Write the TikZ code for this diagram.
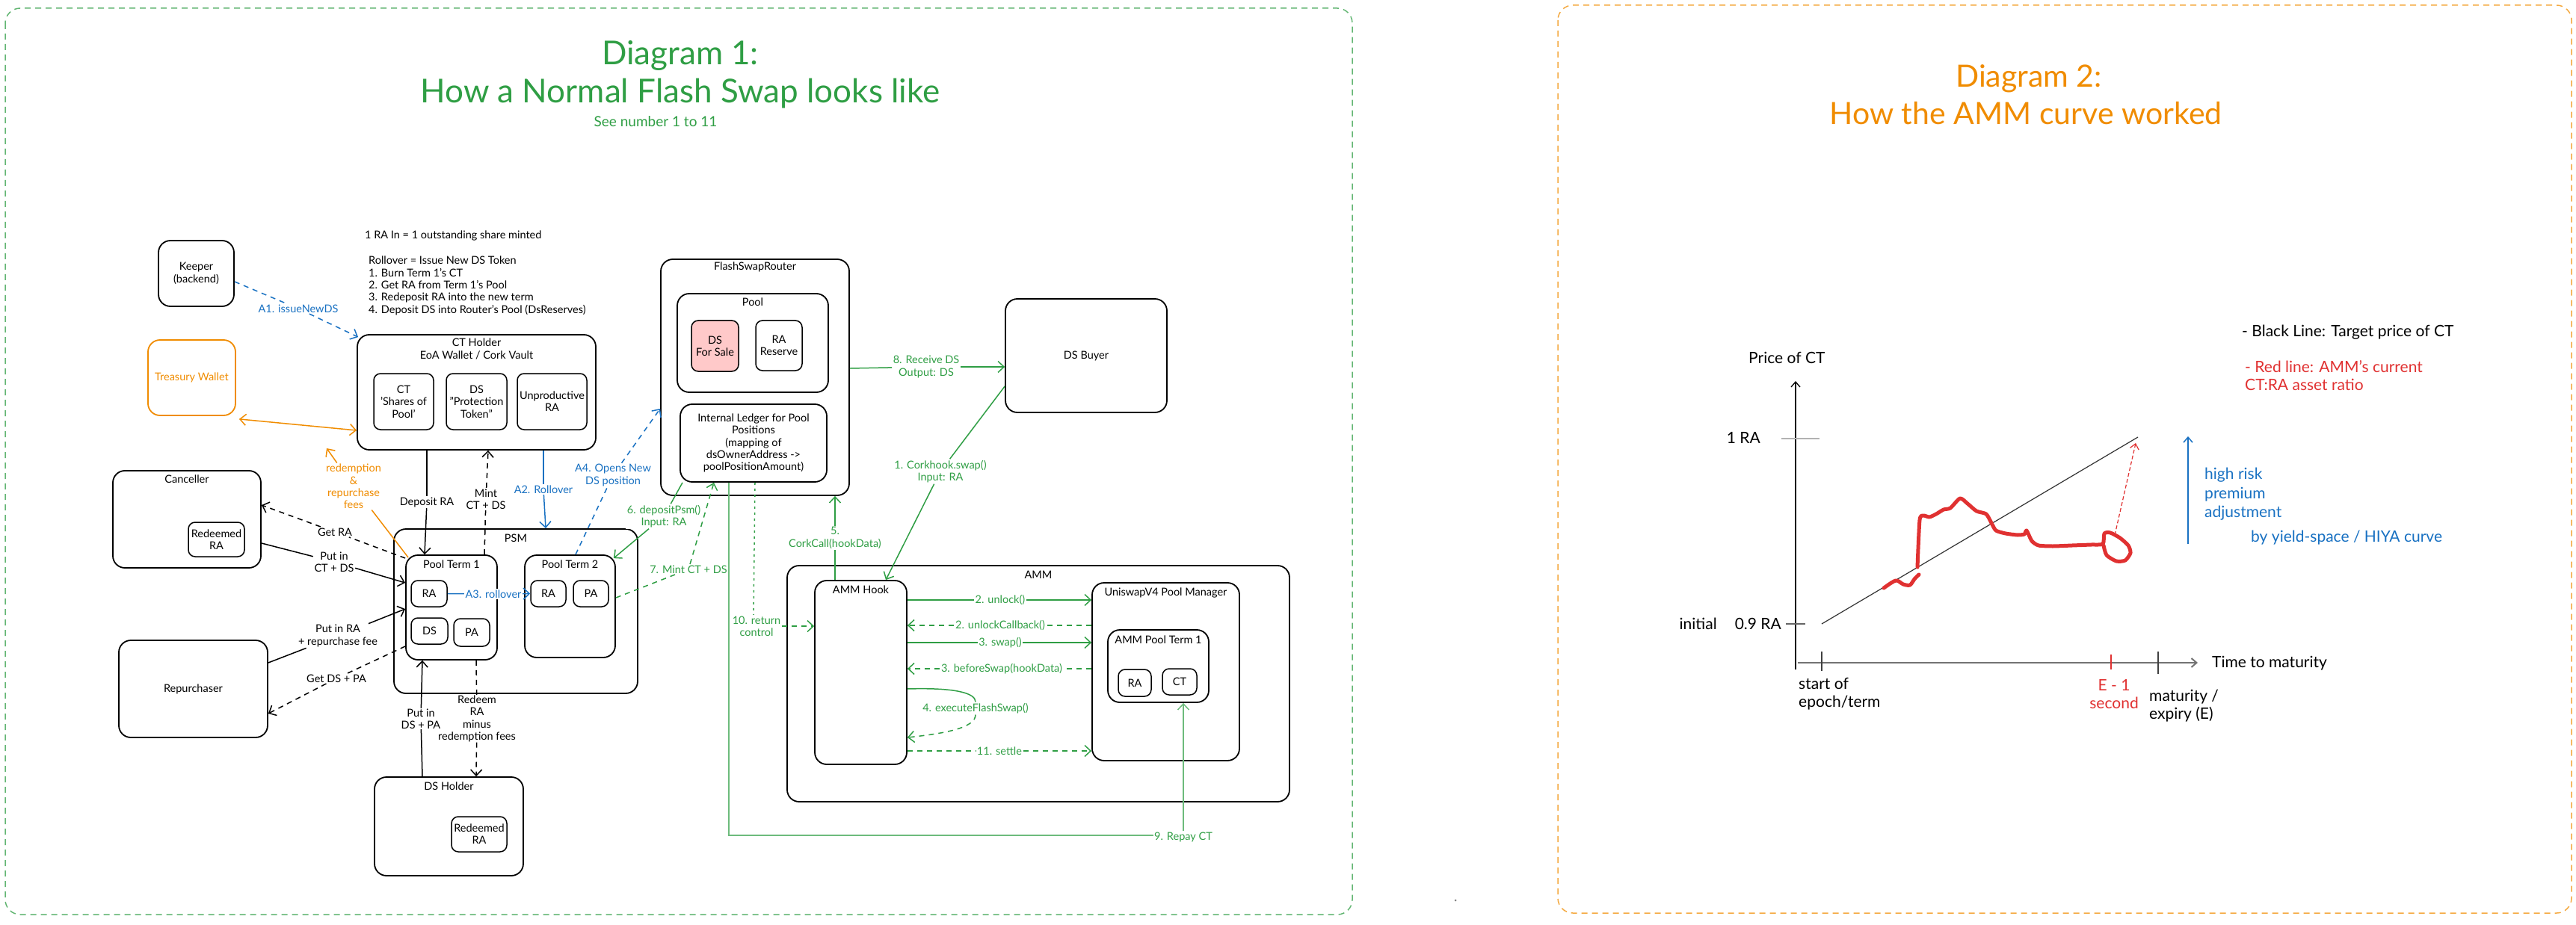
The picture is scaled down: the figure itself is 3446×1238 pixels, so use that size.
\documentclass[tikz,border=0pt]{standalone}
\usepackage{fontspec}
\setmainfont{Lato}
\usetikzlibrary{arrows.meta}
\definecolor{xgreen}{HTML}{2F9E44}
\definecolor{xblue}{HTML}{1971C2}
\definecolor{xorange}{HTML}{F08C00}
\definecolor{xred}{HTML}{E03131}
\definecolor{xpink}{HTML}{FFC9C9}
\newcommand\fsmall{\fontsize{14.5}{16.3}\selectfont}
\newcommand\fmid{\fontsize{21}{24}\selectfont}
\newcommand\ftitle{\fontsize{44}{51}\selectfont}
\newcommand\ftitleb{\fontsize{41}{51}\selectfont}
\tikzset{
  bx/.style={draw=black, line width=1.8pt, rounded corners=16pt, inner sep=0pt, align=center, font=\fsmall},
  ib/.style={draw=black, line width=1.5pt, rounded corners=9pt, inner sep=0pt, align=center, font=\fsmall},
  tx/.style={align=center, font=\fsmall, inner sep=1pt},
  lab/.style={fill=white, align=center, font=\fsmall, inner sep=1.5pt},
  ar/.style={line width=1.5pt, -{Straight Barb[length=8pt,width=15pt]}},
  dar/.style={ar, dash pattern=on 7pt off 6pt},
  ln/.style={line width=1.5pt},
  mt/.style={align=left, font=\fmid, inner sep=1pt},
}
\begin{document}
\begin{tikzpicture}[x=1pt,y=-1pt]
\useasboundingbox (0,0) rectangle (3446,1238);
% frames
\draw[xgreen!75, line width=1.5pt, dash pattern=on 8pt off 6pt, rounded corners=20pt] (7,11) rectangle (1809,1224);
\draw[xorange!75, line width=1.5pt, dash pattern=on 8pt off 6pt, rounded corners=20pt] (2084,7) rectangle (3440,1222);
\fill[black!50] (1947,1205) circle (1.5);

% ===== Diagram 1 titles
\node[font=\ftitle, text=xgreen, anchor=base] (t1a) at (910,87) {Diagram 1:};
\node[font=\ftitle, text=xgreen, anchor=base] (t1b) at (910,138) {How a Normal Flash Swap looks like};
\node[font=\fontsize{19}{23}\selectfont, text=xgreen, anchor=base] (t1c) at (877,170) {See number 1 to 11};

% notes
\node[tx, anchor=west] (note1) at (487,315) {1 RA In = 1 outstanding share minted};
\node[tx, anchor=north west, align=left] (note2) at (492,342) {Rollover = Issue New DS Token\\1. Burn Term 1's CT\\2. Get RA from Term 1's Pool\\3. Redeposit RA into the new term\\4. Deposit DS into Router's Pool (DsReserves)};

% boxes
\node[bx, minimum width=101pt, minimum height=88pt] (keeper) at (262.5,366) {Keeper\\(backend)};
\node[bx, draw=xorange, text=xorange, minimum width=117pt, minimum height=101pt] (treas) at (256.5,505.5) {Treasury Wallet};

\node[bx, minimum width=319pt, minimum height=154pt] (cth) at (637.5,525) {};
\node[tx] (ctht) at (637.5,467) {CT Holder\\EoA Wallet / Cork Vault};
\node[ib, minimum width=80pt, minimum height=75pt] (ctct) at (540,537.5) {CT\\'Shares of\\Pool'};
\node[ib, minimum width=81pt, minimum height=75pt] (ctds) at (637.5,537.5) {DS\\"Protection\\Token"};
\node[ib, minimum width=93pt, minimum height=75pt] (ctra) at (738.5,537.5) {Unproductive\\RA};

\node[bx, minimum width=198pt, minimum height=130pt] (canc) at (250,695) {};
\node[tx] (canct) at (250,641) {Canceller};
\node[ib, minimum width=75pt, minimum height=46pt] (cancra) at (289.5,722) {Redeemed\\RA};

\node[bx, minimum width=199pt, minimum height=130pt] (repu) at (258.5,922) {Repurchaser};

\node[bx, minimum width=326pt, minimum height=220pt] (psm) at (690,818) {};
\node[tx] (psmt) at (690,720) {PSM};
\node[bx, minimum width=122pt, minimum height=140pt] (pt1) at (604,813) {};
\node[tx] (pt1t) at (604,755) {Pool Term 1};
\node[ib, minimum width=48pt, minimum height=35pt] (pt1ra) at (574,794.5) {RA};
\node[ib, minimum width=49pt, minimum height=35pt] (pt1ds) at (574.5,844.5) {DS};
\node[ib, minimum width=48pt, minimum height=37pt] (pt1pa) at (631,846.5) {PA};
\node[bx, minimum width=121pt, minimum height=137pt] (pt2) at (762.5,811.5) {};
\node[tx] (pt2t) at (762.5,755) {Pool Term 2};
\node[ib, minimum width=47pt, minimum height=35pt] (pt2ra) at (733.5,794.5) {RA};
\node[ib, minimum width=47pt, minimum height=35pt] (pt2pa) at (790.5,794.5) {PA};

\node[bx, minimum width=199pt, minimum height=132pt] (dsh) at (600.5,1106) {};
\node[tx] (dsht) at (600.5,1052) {DS Holder};
\node[ib, minimum width=74pt, minimum height=47pt] (dshra) at (641,1116.5) {Redeemed\\RA};

\node[bx, minimum width=252pt, minimum height=316pt] (rtr) at (1010,505) {};
\node[tx] (rtrt) at (1010,357) {FlashSwapRouter};
\node[bx, minimum width=202pt, minimum height=132pt] (pool) at (1007,459) {};
\node[tx] (poolt) at (1007,404) {Pool};
\node[ib, fill=xpink, minimum width=63pt, minimum height=68pt] (dsfs) at (956.5,463) {DS\\For Sale};
\node[ib, minimum width=62pt, minimum height=67pt] (rares) at (1042,462.5) {RA\\Reserve};
\node[bx, minimum width=196pt, minimum height=104pt] (ledg) at (1008,593) {Internal Ledger for Pool\\Positions\\(mapping of\\dsOwnerAddress -{}>\\poolPositionAmount)};

\node[bx, minimum width=216pt, minimum height=152pt] (dsb) at (1453,476) {DS Buyer};

\node[bx, minimum width=672pt, minimum height=316pt] (amm) at (1389,915) {};
\node[tx] (ammt) at (1389,769) {AMM};
\node[bx, minimum width=123pt, minimum height=246pt] (hook) at (1151.5,900) {};
\node[tx] (hookt) at (1151.5,789) {AMM Hook};
\node[bx, minimum width=197pt, minimum height=238pt] (pm) at (1559.5,899) {};
\node[tx] (pmt) at (1559.5,793) {UniswapV4 Pool Manager};
\node[bx, minimum width=135pt, minimum height=97pt] (apt) at (1549.5,891.5) {};
\node[tx] (aptt) at (1549.5,856) {AMM Pool Term 1};
\node[ib, minimum width=44pt, minimum height=36pt] (apra) at (1518,914) {RA};
\node[ib, minimum width=46pt, minimum height=35pt] (apct) at (1578,912.5) {CT};

% ===== connectors (blue)
\node[lab, text=xblue] (la1) at (399,413) {A1. issueNewDS};
\draw[xblue, dar] ([yshift=-11pt]keeper.east) -- (la1) -- ([xshift=2pt,yshift=-4pt]cth.north west);
\node[lab, text=xblue] (la2) at (727,655) {A2. Rollover};
\draw[xblue, ln] ([xshift=89.5pt]cth.south) -- (la2);
\draw[xblue, ar] (la2) -- ([xshift=40pt]psm.north);
\node[lab, text=xblue] (la3) at (660,795) {A3. rollover};
\draw[xblue, ln] (pt1ra.east) -- (la3);
\draw[xblue, ar] (la3) -- (pt2ra.west);
\node[lab, text=xblue] (la4) at (820,636) {A4. Opens New\\DS position};
\draw[xblue, dar] ([xshift=7.5pt]pt2.north) -- (la4) -- ([yshift=-42pt]rtr.west);

% ===== orange fees
\coordinate (feept) at (437,600);
\node[lab, text=xorange] (lfee) at (473,651) {redemption\\\&\\repurchase\\fees};
\draw[xorange, ln] ([xshift=4pt,yshift=-4pt]pt1.north west) -- (lfee);
\draw[xorange, ar] (lfee) -- (feept);
\draw[xorange, line width=1.5pt, {Straight Barb[length=8pt,width=15pt]}-{Straight Barb[length=8pt,width=15pt]}] ([xshift=4pt,yshift=-4pt]treas.south east) -- ([yshift=-51pt]cth.west);

% ===== black connectors
\node[lab] (ldep) at (571,672) {Deposit RA};
\draw[ln] ([xshift=-66.5pt]cth.south) -- (ldep);
\draw[ar] (ldep) -- ([xshift=-36pt]pt1.north);
\node[lab] (lmint) at (650,668) {Mint\\CT + DS};
\draw[dar] ([xshift=44pt]pt1.north) -- (lmint) -- ([xshift=15.5pt]cth.south);

\node[lab] (lgetra) at (448,712) {Get RA};
\draw[dar] ([yshift=66pt]pt1.west) -- (lgetra) -- ([yshift=19pt]canc.east);
\node[lab] (lputct) at (447,752) {Put in\\CT + DS};
\draw[ln] ([yshift=-32pt]canc.east) -- (lputct);
\draw[ar] (lputct) -- ([yshift=33pt]pt1.west);
\node[lab] (lputra) at (452,851) {Put in RA\\+ repurchase fee};
\draw[ln] ([yshift=35pt]repu.east) -- (lputra);
\draw[ar] (lputra) -- ([yshift=-2pt]pt1.west);
\node[lab] (lgetds) at (450,908) {Get DS + PA};
\draw[dar] ([yshift=-52pt]pt1.west) -- (lgetds) -- ([yshift=-33pt]repu.east);

\node[lab, inner sep=0.5pt] (lredeem) at (638,962) {Redeem\\RA\\minus\\redemption fees};
\draw[dar] ([xshift=33pt]pt1.south) -- (lredeem) -- ([xshift=36.5pt]dsh.north);
\node[lab, inner sep=0.5pt] (lputds) at (563,962) {Put in\\DS + PA};
\draw[ln] ([xshift=-35.5pt]dsh.north) -- (lputds);
\draw[ar] (lputds) -- ([xshift=-39pt]pt1.south);

% ===== green connectors
\node[lab, text=xgreen] (l8) at (1239,491) {8. Receive DS\\Output: DS};
\draw[xgreen, ln] ([yshift=12pt]rtr.east) -- (l8);
\draw[xgreen, ar] (l8) -- ([yshift=-15pt]dsb.west);
\node[lab, text=xgreen] (l1) at (1258,631) {1. Corkhook.swap()\\Input: RA};
\draw[xgreen, ln] ([yshift=-41pt]dsb.west) -- (l1);
\draw[xgreen, ar] (l1) -- ([xshift=33.5pt]hook.north);
\node[lab, text=xgreen] (l6) at (888,691) {6. depositPsm()\\Input: RA};
\draw[xgreen, ln] ([xshift=-95pt]ledg.south) -- (l6);
\draw[xgreen, ar] (l6) -- ([xshift=-3pt,yshift=-5pt]pt2.north east);
\node[lab, text=xgreen] (l7) at (921,762) {7. Mint CT + DS};
\draw[xgreen, dar] ([yshift=11.5pt]pt2.east) -- (l7) -- ([xshift=-53pt]ledg.south);
\node[lab, text=xgreen] (l5) at (1117,720) {5.\\CorkCall(hookData)};
\draw[xgreen, ln] ([xshift=-34.5pt]hook.north) -- (l5);
\draw[xgreen, ar] (l5) -- ([xshift=107pt]rtr.south);
\node[lab, text=xgreen] (l10) at (1012,838) {10. return\\control};
\draw[xgreen, line width=1.5pt, dash pattern=on 3pt off 5pt] ([xshift=2pt]ledg.south) -- (l10.north -| ledg.south);
\draw[xgreen, dar] (l10.east) -- ([yshift=62pt]hook.west);

\coordinate (rpc) at (1583,1118);
\draw[xgreen!70, ln] ([xshift=-33pt]ledg.south) |- (rpc);
\node[lab, text=xgreen] (l9) at (1583,1120) {9. Repay CT};
\draw[xgreen!70, ar] (l9) -- ([xshift=33.5pt]apt.south);

% AMM internal
\node[lab, text=xgreen] (l2a) at (1338,803) {2. unlock()};
\draw[xgreen, ln] ([yshift=97pt]hook.east) -- (l2a);
\draw[xgreen, ar] (l2a) -- ([yshift=96pt]pm.west);
\node[lab, text=xgreen] (l2b) at (1338,837) {2. unlockCallback()};
\draw[xgreen, dar] ([yshift=62pt]pm.west) -- (l2b) -- ([yshift=63pt]hook.east);
\node[lab, text=xgreen] (l3a) at (1338,860) {3. swap()};
\draw[xgreen, ln] ([yshift=40pt]hook.east) -- (l3a);
\draw[xgreen, ar] (l3a) -- ([yshift=39pt]pm.west);
\node[lab, text=xgreen] (l3b) at (1340,895) {3. beforeSwap(hookData)};
\draw[xgreen, dar] ([yshift=4pt]pm.west) -- (l3b) -- ([yshift=5pt]hook.east);
\node[lab, text=xgreen] (l4) at (1305,948) {4. executeFlashSwap()};
\draw[xgreen, ln] ([yshift=-22pt]hook.east) .. controls (1280,920) and (1305,928) .. (l4.north);
\draw[xgreen, dar] (l4.south) .. controls (1305,975) and (1260,982) .. ([yshift=-87pt]hook.east);
\node[lab, text=xgreen] (l11) at (1337,1005) {11. settle};
\draw[xgreen, dar] ([yshift=-105pt]hook.east) -- (l11) -- ([yshift=-106pt]pm.west);

% ===== Diagram 2
\node[font=\ftitleb, text=xorange, anchor=base] (t2a) at (2714,117) {Diagram 2:};
\node[font=\ftitleb, text=xorange, anchor=base] (t2b) at (2710,167) {How the AMM curve worked};

\node[mt, anchor=west] (leg1) at (2998,445) {- Black Line: Target price of CT};
\node[mt, anchor=west, text=xred] (leg2) at (3002,503) {- Red line: AMM's current\\CT:RA asset ratio};

\node[mt, anchor=west] (ylab) at (2338,479) {Price of CT};
\draw[line width=1.3pt, -{Straight Barb[length=7pt,width=12pt]}] (2402,896) -- (2402,510);
\draw[black!55, line width=2pt, -{Straight Barb[length=7pt,width=12pt]}] (2405,887) -- (2940,887);
\node[mt, anchor=west] (xlab) at (2958,888) {Time to maturity};

\draw[black!30, line width=2.5pt] (2383,587) -- (2434,587);
\node[mt, anchor=east] (l1ra) at (2356,586) {1 RA};
\draw[black!60, line width=1.5pt] (2389,835) -- (2415,835);
\node[mt, anchor=east] (l09) at (2384,835) {0.9 RA};
\node[mt, anchor=east] (linit) at (2298,835) {initial};

\draw[black!75, line width=1.5pt] (2437,872) -- (2437,898);
\draw[xred, line width=1.5pt] (2824,876) -- (2824,896);
\draw[black!75, line width=1.5pt] (2887,872) -- (2887,902);
\node[mt, anchor=west] (lstart) at (2405,929) {start of\\epoch/term};
\node[mt, align=center, text=xred] (le1) at (2828,929) {E - 1\\second};
\node[mt, anchor=west] (lmat) at (2874,945) {maturity /\\expiry (E)};

\draw[black!80, line width=1.2pt] (2437,835) -- (2860,585);

\draw[xred, line width=5pt, line cap=round, line join=round] plot[smooth, tension=0.5] coordinates {(2520,787) (2536,777) (2546,782) (2555,783) (2561,775) (2567,769)};
\draw[xred, line width=5pt, line cap=round, line join=round] plot[smooth, tension=0.4] coordinates {(2565,759) (2568,696) (2573,690) (2581,692) (2590,688) (2600,682) (2609,680) (2622,667) (2632,674) (2644,684) (2657,688) (2664,700) (2670,710) (2683,714) (2699,716) (2708,715) (2711,710) (2718,724) (2727,730) (2746,731) (2772,730) (2797,729) (2813,728) (2815,714) (2823,713) (2836,720) (2847,730) (2850,740) (2843,750) (2831,751) (2818,743) (2814,730)};
\draw[xred, line width=1.2pt, dash pattern=on 5pt off 3pt, -{Straight Barb[length=7pt,width=12pt]}] (2829,716) -- (2857,593);

\draw[xblue, line width=1.5pt, -{Straight Barb[length=7pt,width=12pt]}] (2927,728) -- (2927,584);
\node[mt, anchor=north west, text=xblue, font=\fontsize{21}{25.5}\selectfont] (lhr) at (2948,625) {high risk\\premium\\adjustment};
\node[mt, anchor=west, text=xblue] (lby) at (3010,720) {by yield-space / HIYA curve};
\end{tikzpicture}
\end{document}
